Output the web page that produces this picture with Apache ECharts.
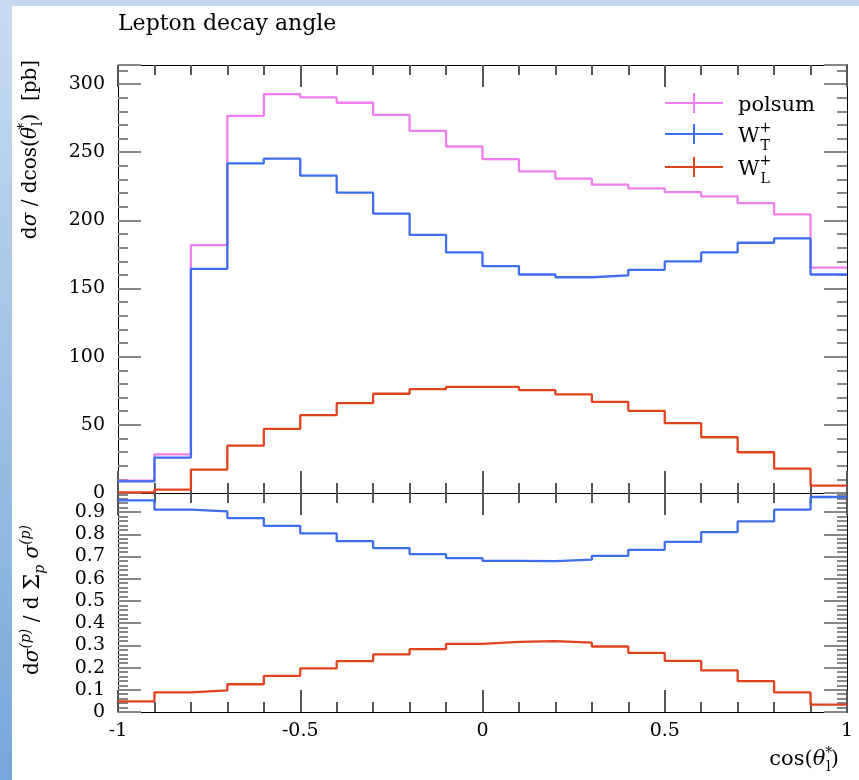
<!DOCTYPE html>
<html>
<head>
<meta charset="utf-8">
<title>Lepton decay angle</title>
<script src="https://cdn.jsdelivr.net/npm/echarts@6/dist/echarts.min.js"></script>
<style>
  html, body { margin: 0; padding: 0; background: #fff; }
  #chart { width: 859px; height: 780px; background: #fff; }
</style>
</head>
<body>
<div id="chart"></div>
<script>
// bin edges of cos(theta*_l), 20 bins of width 0.1
const binEdges = [-1, -0.9, -0.8, -0.7, -0.6, -0.5, -0.4, -0.3, -0.2, -0.1,
  0, 0.1, 0.2, 0.3, 0.4, 0.5, 0.6, 0.7, 0.8, 0.9, 1];

// dsigma/dcos [pb]
const polsum = [9.0, 28.4, 181.9, 276.7, 292.6, 290.2, 286.3, 277.4, 265.7, 254.2,
  244.9, 236.0, 230.6, 226.2, 223.5, 220.8, 217.6, 212.7, 204.4, 165.4];
const wT = [8.6, 26.0, 164.5, 241.9, 245.3, 232.8, 220.3, 204.9, 189.4, 176.5,
  166.4, 160.3, 158.3, 159.6, 163.7, 169.9, 176.5, 183.6, 186.8, 160.3];
const wL = [0.4, 2.5, 17.2, 34.8, 47.0, 57.1, 65.9, 72.8, 76.2, 77.9,
  77.9, 75.5, 72.3, 66.9, 60.3, 51.2, 40.9, 29.9, 17.9, 5.4];

// fractions, lower panel
const ratioT = [0.953, 0.911, 0.903, 0.873, 0.838, 0.804, 0.769, 0.738, 0.711, 0.693,
  0.680, 0.679, 0.686, 0.703, 0.730, 0.766, 0.810, 0.858, 0.911, 0.968];
const ratioL = [0.048, 0.088, 0.097, 0.125, 0.163, 0.196, 0.229, 0.259, 0.283, 0.307,
  0.316, 0.319, 0.312, 0.295, 0.266, 0.230, 0.187, 0.139, 0.088, 0.033];

const legendNames = ['polsum', 'WT', 'WL'];
const legendTop = [93, 121, 154];

const SERIF = '"DejaVu Serif", "Liberation Serif", serif';
const C_POL = '#f07ef0';
const C_T = '#3d6ef0';
const C_L = '#e2431f';

// histogram -> points for step:'end'
function toSteps(vals) {
  const pts = vals.map((v, i) => [binEdges[i], v]);
  pts.push([binEdges[vals.length], vals[vals.length - 1]]);
  return pts;
}

// 1px ticks did not show up in the render, so 2px in a lighter grey
function xAx(grid, pos, labels) {
  return {
    type: 'value', gridIndex: grid, position: pos,
    min: -1, max: 1, interval: 0.5,
    axisLine: { show: true, onZero: false, lineStyle: { color: '#000' } },
    axisTick: { show: true, inside: true, length: 22, lineStyle: { color: '#555', width: 2 } },
    minorTick: { show: true, splitNumber: 5, length: 10, lineStyle: { color: '#555', width: 2 } },
    axisLabel: { show: labels, margin: 10, color: '#000', fontFamily: SERIF, fontSize: 19 },
    splitLine: { show: false }
  };
}

// major=true: long ticks (+labels on the left); false: short minor ticks only
function yAx(grid, pos, max, interval, major, fmt) {
  return {
    type: 'value', gridIndex: grid, position: pos,
    min: 0, max: max, interval: interval,
    axisLine: { show: true, onZero: false, lineStyle: { color: '#000' } },
    axisTick: { show: true, inside: true, length: major ? 23 : 10, lineStyle: { color: '#888', width: 2 } },
    axisLabel: {
      show: !!fmt, formatter: fmt || undefined, margin: 13,
      color: '#000', fontFamily: SERIF, fontSize: 19
    },
    splitLine: { show: false }
  };
}

const mainFmt = v => (Math.abs(v % 50) < 1e-6 ? String(v) : '');
const ratioFmt = v => {
  const r = Math.round(v * 10);
  if (Math.abs(v * 10 - r) > 1e-6) return '';
  return r === 0 ? '0' : String(r / 10);
};

function stepSeries(name, vals, color, xi, yi) {
  return {
    name: name, type: 'line', step: 'end',
    xAxisIndex: xi, yAxisIndex: yi,
    data: toSteps(vals),
    showSymbol: false, symbol: 'none',
    lineStyle: { color: color, width: 2.3 },
    itemStyle: { color: color },
    silent: true
  };
}

// rich text styles for the math labels
function richSet(size) {
  const small = Math.round(size * 0.68);
  const base = { fontFamily: SERIF, fontWeight: 'normal', color: '#000' };
  return {
    n: Object.assign({ fontSize: size, lineHeight: 28, verticalAlign: 'middle' }, base),
    i: Object.assign({ fontStyle: 'italic', fontSize: size, lineHeight: 28, verticalAlign: 'middle' }, base),
    big: Object.assign({ fontSize: Math.round(size * 1.15), lineHeight: 28, verticalAlign: 'middle' }, base),
    sp: Object.assign({ fontSize: small, width: 1, verticalAlign: 'top' }, base),
    spi: Object.assign({ fontStyle: 'italic', fontSize: small, verticalAlign: 'top' }, base),
    sb: Object.assign({ fontSize: small, verticalAlign: 'bottom' }, base),
    sbi: Object.assign({ fontStyle: 'italic', fontSize: small, verticalAlign: 'bottom' }, base)
  };
}

function legendFor(i) {
  return {
    orient: 'vertical', left: 665, top: legendTop[i], padding: 0,
    itemWidth: 58, itemHeight: 20,
    icon: 'path://M0,9h58v2h-58z M28,0h2v20h-2z',
    itemStyle: { borderWidth: 0 },
    selectedMode: false,
    data: [legendNames[i]],
    formatter: name => {
      if (name === 'WT') return '{n|W}{sp|+}{sb|T}';
      if (name === 'WL') return '{n|W}{sp|+}{sb|L}';
      return '{n|polsum}';
    },
    textStyle: {
      padding: [6, 0, 0, 10],
      rich: {
        n: { fontFamily: SERIF, fontSize: 21, color: '#000', lineHeight: 32, verticalAlign: 'middle' },
        sp: { fontFamily: SERIF, fontSize: 14, color: '#000', width: 1, verticalAlign: 'top' },
        sb: { fontFamily: SERIF, fontSize: 14, color: '#000', verticalAlign: 'bottom' }
      }
    }
  };
}

const yMain = yAx(0, 'left', 314, 50, true, mainFmt);
yMain.name = '{n|d}{i|σ}{n| / dcos(}{i|θ}{sp|*}{sb|l}{n|)  [pb]}';
yMain.nameLocation = 'middle';
yMain.nameRotate = 90;
yMain.nameGap = 73;
yMain.nameTextStyle = { rich: richSet(20), padding: [0, 0, 0, 259] };

const yRatio = yAx(1, 'left', 0.986, 0.1, true, ratioFmt);
yRatio.name = '{n|d}{i|σ}{spi|(p)}{n| / d }{big|Σ}{sbi|p}{n| }{i|σ}{spi|(p)}';
yRatio.nameLocation = 'middle';
yRatio.nameRotate = 90;
yRatio.nameGap = 71;
yRatio.nameTextStyle = { rich: richSet(20), padding: [0, 0, 0, 5] };

const chart = echarts.init(document.getElementById('chart'), null, { renderer: 'canvas' });

const option = {
  animation: false,
  title: [
    {
      text: 'Lepton decay angle',
      left: 118, top: 13, padding: 0,
      textStyle: { fontFamily: SERIF, fontSize: 22, fontWeight: 'normal', color: '#000' }
    },
    {
      text: '{n|cos(}{i|θ}{sp|*}{sb|l}{n|)}',
      right: 20, top: 746, padding: 0,
      textStyle: { fontWeight: 'normal', rich: richSet(21) }
    }
  ],
  grid: [
    { left: 118, right: 12, top: 65, height: 428 },
    { left: 118, right: 12, top: 493, height: 219 }
  ],
  xAxis: [
    xAx(0, 'bottom', false),
    xAx(0, 'top', false),
    xAx(1, 'bottom', true),
    xAx(1, 'top', false)
  ],
  yAxis: [
    yMain,
    yAx(0, 'left', 314, 10, false, null),
    yAx(0, 'right', 314, 50, true, null),
    yAx(0, 'right', 314, 10, false, null),
    yRatio,
    yAx(1, 'left', 0.986, 0.02, false, null),
    yAx(1, 'right', 0.986, 0.1, true, null),
    yAx(1, 'right', 0.986, 0.02, false, null)
  ],
  legend: [legendFor(0), legendFor(1), legendFor(2)],
  graphic: [
    { type: 'rect', z: -10, silent: true, shape: { x: 0, y: 0, width: 859, height: 6 }, style: { fill: '#c4d9ef' } },
    {
      type: 'rect', z: -10, silent: true, shape: { x: 0, y: 0, width: 12, height: 780 },
      style: {
        fill: new echarts.graphic.LinearGradient(0, 0, 0, 1, [
          { offset: 0, color: '#c8dcf1' },
          { offset: 1, color: '#76a7da' }
        ])
      }
    }
  ],
  series: [
    stepSeries('polsum', polsum, C_POL, 0, 0),
    stepSeries('WT', wT, C_T, 0, 0),
    stepSeries('WL', wL, C_L, 0, 0),
    stepSeries('WT', ratioT, C_T, 2, 4),
    stepSeries('WL', ratioL, C_L, 2, 4)
  ]
};

chart.setOption(option);
</script>
</body>
</html>
